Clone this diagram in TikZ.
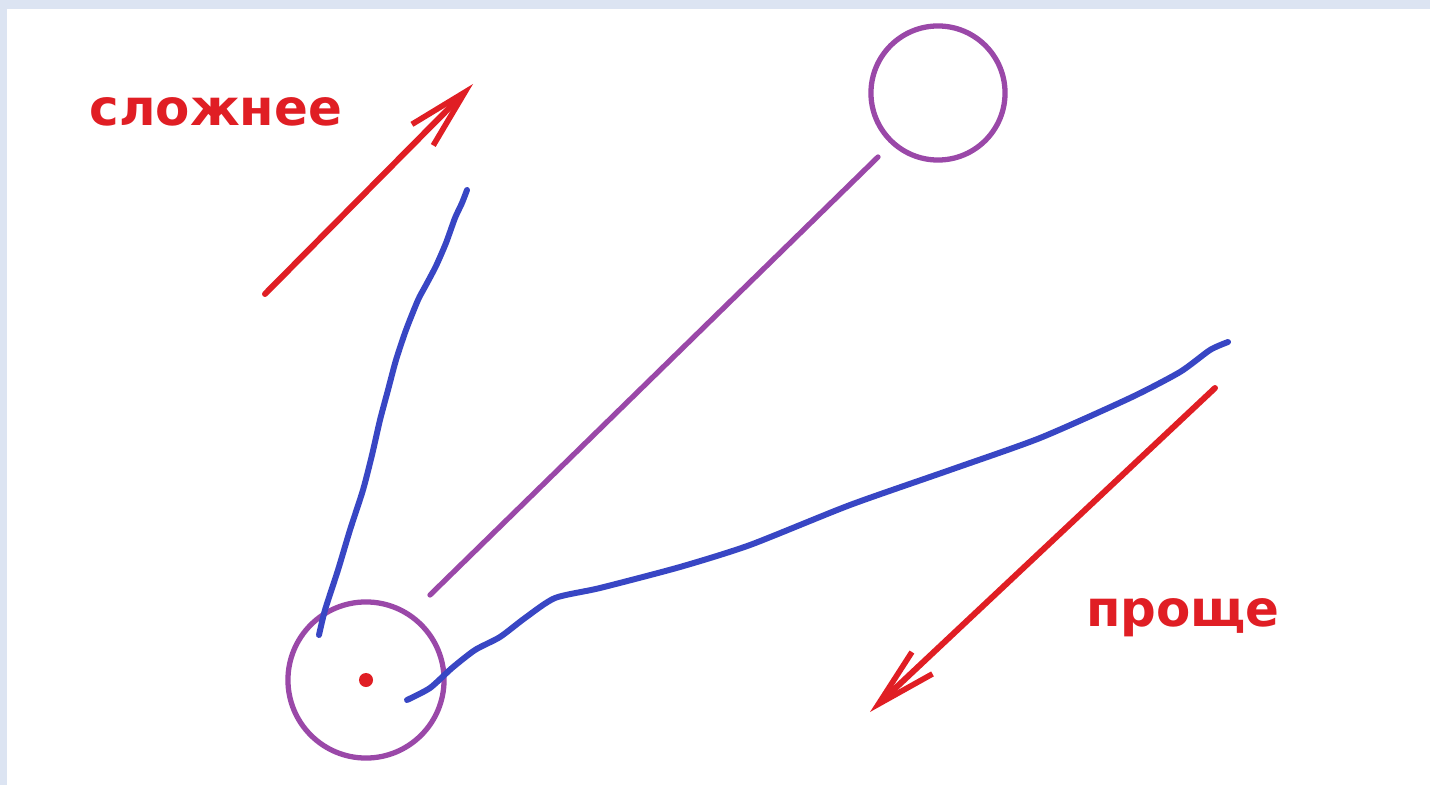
\documentclass[tikz,border=0pt]{standalone}
\usepackage{fontspec}
\usepackage{tikz}
\usepackage{xcolor}
\usetikzlibrary{arrows.meta}
\newfontfamily\labfont{DejaVu Sans}
\definecolor{framebg}{HTML}{DCE4F2}
\definecolor{penred}{HTML}{E01E24}
\definecolor{penblue}{HTML}{3846C4}
\definecolor{penpurple}{HTML}{9A48A8}

\begin{document}
\begin{tikzpicture}[x=0.01cm,y=-0.01cm,
  pen/.style={line width=1.7pt,line cap=round,line join=round},
  redarrow/.style={pen,penred,-{Straight Barb[length=6mm,width=3mm,line width=1.6pt]}},
  lab/.style={text=penred,font=\labfont\bfseries\fontsize{14.2}{17}\selectfont,inner sep=0pt}]
  % frame
  \fill[framebg] (0,0) rectangle (1430,785);
  \fill[white] (7,9) rectangle (1430,785);
  \useasboundingbox (0,0) rectangle (1430,785);

  % circles
  \node[circle,draw=penpurple,line width=1.5pt,minimum size=1.56cm,inner sep=0pt] (small) at (366,680) {};
  \node[circle,draw=penpurple,line width=1.5pt,minimum size=1.34cm,inner sep=0pt] (big) at (938,93) {};
  \fill[penred] (small.center) circle[radius=0.07cm];

  % line between them
  \coordinate (p1) at (430,595);
  \coordinate (p2) at (878,157);
  \draw[pen,penpurple,line width=1.5pt] (p1) -- (p2);

  % hand drawn blue curves
  \draw[pen,penblue] plot[smooth,tension=0.4] coordinates {(319,635) (325,610) (338,570) (350,530) (363,490) (372,455) (380,420) (388,390) (396,360) (406,330) (418,300) (426,285) (436,266) (446,243) (455,218) (462,203) (467,190)};
  \draw[pen,penblue] plot[smooth,tension=0.4] coordinates {(407,700) (430,688) (452,668) (475,650) (500,637) (525,618) (555,598) (600,588) (680,567) (750,545) (850,505) (950,470) (1040,438) (1130,398) (1180,372) (1210,350) (1228,342)};

  % red arrows
  \coordinate (a1) at (265,294);
  \coordinate (a2) at (473,84);
  \draw[redarrow] (a1) -- (a2);
  \coordinate (b1) at (1215,388);
  \coordinate (b2) at (870,712);
  \draw[redarrow] (b1) -- (b2);

  \node[lab] (harder) at (216,112) {сложнее};
  \node[lab] (simpler) at (1183,618) {проще};
\end{tikzpicture}
\end{document}
